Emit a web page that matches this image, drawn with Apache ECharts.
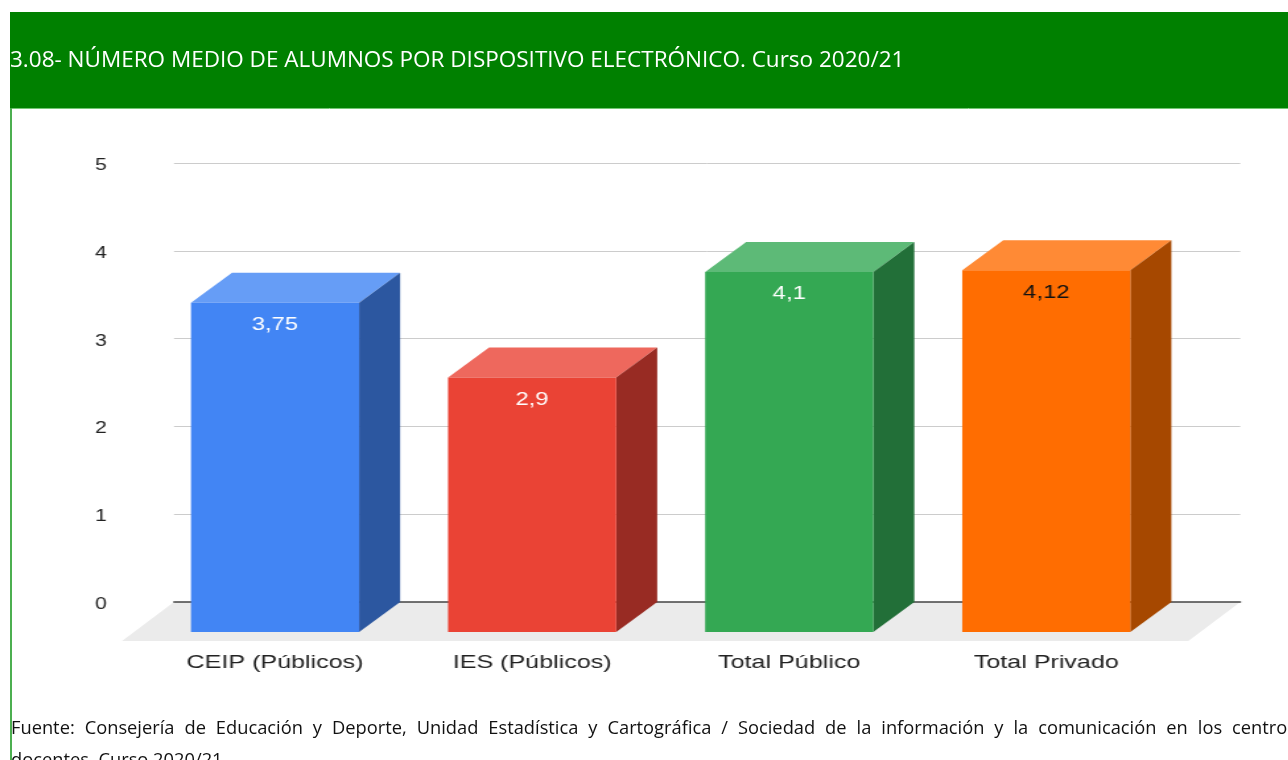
<!DOCTYPE html>
<html>
<head>
<meta charset="utf-8">
<script src="https://cdn.jsdelivr.net/npm/echarts@6/dist/echarts.min.js"></script>
<style>
  html, body { margin: 0; padding: 0; background: #fff; overflow: hidden; }
  #frame { position: absolute; left: 0; top: 0; width: 1288px; height: 760px; }
  /* the plot is drawn narrower and widened horizontally */
  #plot { position: absolute; left: 0; top: 0; width: 975.76px; height: 760px;
          transform: scaleX(1.32); transform-origin: 0 0; }
</style>
</head>
<body>
<div id="frame"></div>
<div id="plot"></div>
<script>
// ---- data ----
const categories = ['CEIP (Públicos)', 'IES (Públicos)', 'Total Público', 'Total Privado'];
const values = [3.75, 2.9, 4.1, 4.12];
const yTicks = [0, 1, 2, 3, 4, 5];

const titleText = '3.08- NÚMERO MEDIO DE ALUMNOS POR DISPOSITIVO ELECTRÓNICO. Curso 2020/21';
const sourceLine1 = 'Fuente: Consejería de Educación y Deporte, Unidad Estadística y Cartográfica / Sociedad de la información y la comunicación en los centros';
const sourceLine2 = 'docentes. Curso 2020/21.';

// ---- styling ----
const SX = 1.32;                 // horizontal widening of the plot
const W = 1288 / SX;             // plot canvas width before widening
const faceColors = [
  { front: '#4285F4', top: '#669DF6', side: '#2C57A0', label: '#ffffff' },
  { front: '#EA4335', top: '#EE685D', side: '#982B23', label: '#ffffff' },
  { front: '#34A853', top: '#5DBA77', side: '#226F38', label: '#ffffff' },
  { front: '#FF6D01', top: '#FF8A35', side: '#A64800', label: '#111111' }
];
const DEPTH_X = 41 / SX;         // 3D depth offset
const DEPTH_Y = -30;
const FLOOR_X = -52 / SX;
const FLOOR_Y = 39;

// ---- source note, justified across the page width ----
const noteFont = '18.3px "Open Sans"';
function justifiedWords(text, x0, x1, y) {
  const ctx = document.createElement('canvas').getContext('2d');
  ctx.font = noteFont;
  const words = text.split(' ');
  const widths = words.map(w => ctx.measureText(w).width);
  const total = widths.reduce((a, b) => a + b, 0);
  const gap = (x1 - x0 - total) / (words.length - 1);
  let x = x0;
  return words.map((w, i) => {
    const el = { type: 'text', x: x, y: y,
                 style: { text: w, fill: '#111', font: noteFont, verticalAlign: 'middle' } };
    x += widths[i] + gap;
    return el;
  });
}

// ---- frame: header band, side rule, source note ----
const frame = echarts.init(document.getElementById('frame'), null, { renderer: 'canvas' });
frame.setOption({
  animation: false,
  title: {
    text: titleText,
    left: 10, top: 49, padding: 0,
    textStyle: { color: '#ffffff', fontFamily: 'Open Sans', fontWeight: 'normal', fontSize: 22.5 }
  },
  graphic: [
    { type: 'rect', z: -1, shape: { x: 10, y: 12, width: 1278, height: 96 }, style: { fill: '#008000' } },
    { type: 'line', shape: { x1: 10, y1: 108.5, x2: 1288, y2: 108.5 }, style: { stroke: '#73c773', lineWidth: 1 } },
    { type: 'line', shape: { x1: 11, y1: 108, x2: 11, y2: 760 }, style: { stroke: '#4caf50', lineWidth: 2 } },
    { type: 'group', children: justifiedWords(sourceLine1, 11, 1296, 728.5) },
    { type: 'text', x: 11, y: 761, style: { text: sourceLine2, fill: '#111', font: noteFont, verticalAlign: 'middle' } }
  ]
});

// ---- plot ----
const plot = echarts.init(document.getElementById('plot'), null, { renderer: 'canvas' });

plot.setOption({
  animation: false,
  grid: [
    // value plane (back wall with gridlines)
    { left: 174 / SX, right: W - 1240 / SX, top: 163, bottom: 760 - 602 },
    // front plane where the bar faces stand
    { left: 146.5 / SX, right: W - 1174.5 / SX, top: 193, bottom: 760 - 632 }
  ],
  xAxis: [
    { gridIndex: 0, type: 'value', min: 0, max: 1, z: 3,
      axisLine: { show: true, lineStyle: { color: '#444', width: 1.5 } },
      axisTick: { show: false }, axisLabel: { show: false }, splitLine: { show: false } },
    { gridIndex: 1, type: 'category', data: categories,
      axisLine: { show: false }, axisTick: { show: false },
      axisLabel: { margin: 21, color: '#222', fontSize: 19, fontFamily: 'Arial, Liberation Sans' } }
  ],
  yAxis: [
    { gridIndex: 0, type: 'value', min: yTicks[0], max: yTicks[yTicks.length - 1], interval: 1,
      axisLine: { show: false }, axisTick: { show: false },
      axisLabel: { margin: 51, formatter: '{v|{value}}',
                   rich: { v: { color: '#222', fontSize: 16, fontFamily: 'Arial, Liberation Sans',
                                padding: [5, 0, 0, 0] } } },
      splitLine: { lineStyle: { color: '#cccccc', width: 1 } } },
    { gridIndex: 1, type: 'value', min: yTicks[0], max: yTicks[yTicks.length - 1], interval: 1,
      show: false }
  ],
  series: [
    {
      // floor under the bars
      type: 'custom', xAxisIndex: 0, yAxisIndex: 0, z: 1, silent: true,
      data: [[0, 0]],
      renderItem: function (params, api) {
        const a = api.coord([0, 0]);
        const b = api.coord([1, 0]);
        return {
          type: 'polygon',
          shape: { points: [a, b, [b[0] + FLOOR_X, b[1] + FLOOR_Y], [a[0] + FLOOR_X, a[1] + FLOOR_Y]] },
          style: { fill: '#ebebeb' }
        };
      }
    },
    {
      // 3D bars
      type: 'custom', xAxisIndex: 1, yAxisIndex: 1, z: 5,
      data: values.map((v, i) => [i, v]),
      renderItem: function (params, api) {
        const i = api.value(0);
        const v = api.value(1);
        const top = api.coord([i, v]);
        const base = api.coord([i, 0]);
        const w = api.size([1, 0])[0] * 0.654;
        const x0 = top[0] - w / 2, x1 = top[0] + w / 2;
        const yT = top[1], yB = base[1];
        const c = faceColors[i];
        return {
          type: 'group',
          children: [
            { type: 'polygon',
              shape: { points: [[x0, yT], [x0 + DEPTH_X, yT + DEPTH_Y], [x1 + DEPTH_X, yT + DEPTH_Y], [x1, yT]] },
              style: { fill: c.top } },
            { type: 'polygon',
              shape: { points: [[x1, yT], [x1 + DEPTH_X, yT + DEPTH_Y], [x1 + DEPTH_X, yB + DEPTH_Y], [x1, yB]] },
              style: { fill: c.side } },
            { type: 'rect', shape: { x: x0, y: yT, width: w, height: yB - yT }, style: { fill: c.front } },
            { type: 'text', x: top[0], y: yT + 22.5,
              style: { text: String(v).replace('.', ','), fill: c.label, font: '18px Arial, "Liberation Sans"',
                       align: 'center', verticalAlign: 'middle' } }
          ]
        };
      }
    }
  ]
});
</script>
</body>
</html>
